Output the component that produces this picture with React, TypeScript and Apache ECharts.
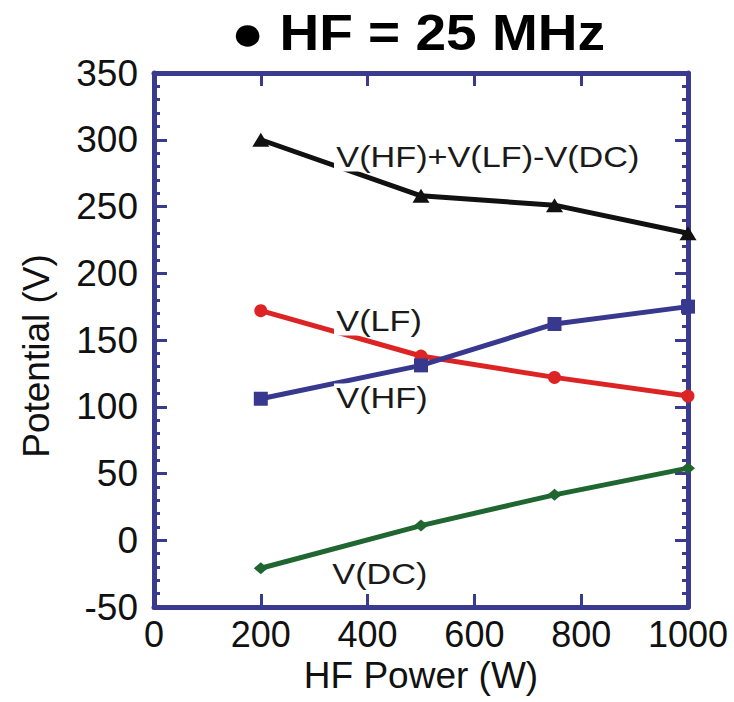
import React, { useEffect, useRef } from "react";
import * as echarts from "echarts";

// HF power settings (W)
const hfPower = [200, 500, 750, 1000];

// Measured potentials (V)
const sumPotential = [300, 258, 251, 230]; // V(HF)+V(LF)-V(DC)
const vLF = [172, 138, 122, 108];
const vHF = [106, 131, 162, 175];
const vDC = [-21, 11, 34, 54];

const xTicks = [0, 200, 400, 600, 800, 1000];
const yTicks = [-50, 0, 50, 100, 150, 200, 250, 300, 350];

const AXIS = "#3a3a8e";
const FONT = "Liberation Sans, Arial, Helvetica, sans-serif";

const pairs = (ys: number[]) => hfPower.map((x, i) => [x, ys[i]]);

export default function App() {
  const ref = useRef<HTMLDivElement>(null);

  useEffect(() => {
    if (!ref.current) return;
    const chart = echarts.init(ref.current, null, { renderer: "svg" });

    const baseX = {
      type: "value" as const,
      min: xTicks[0],
      max: xTicks[xTicks.length - 1],
      interval: 200,
      axisLine: { show: true, onZero: false, lineStyle: { color: AXIS, width: 5 } },
      axisTick: { show: true, inside: true, length: 13, lineStyle: { color: AXIS, width: 3 } },
      splitLine: { show: false },
    };
    const baseY = {
      type: "value" as const,
      min: yTicks[0],
      max: yTicks[yTicks.length - 1],
      interval: 50,
      axisLine: { show: true, onZero: false, lineStyle: { color: AXIS, width: 5 } },
      axisTick: { show: true, inside: true, length: 13, lineStyle: { color: AXIS, width: 3 } },
      minorTick: { show: true, splitNumber: 5, length: 6, lineStyle: { color: AXIS, width: 3 } },
      splitLine: { show: false },
    };

    const labelStyle = (text: string) => ({
      text,
      fill: "#1a1a1a",
      font: `29px ${FONT}`,
      backgroundColor: "#ffffff",
      padding: [0, 2],
      verticalAlign: "middle",
    });

    const nameStyle = (text: string) => ({
      text,
      fill: "#111",
      font: `37px ${FONT}`,
      align: "center",
      verticalAlign: "middle",
    });

    chart.setOption({
      animation: false,
      backgroundColor: "#ffffff",
      grid: { left: 154, right: 46, top: 73, bottom: 95, containLabel: false },
      xAxis: [
        {
          ...baseX,
          position: "bottom",
          axisLabel: {
            margin: 10,
            fontFamily: FONT,
            fontSize: 36,
            lineHeight: 34,
            color: "#111",
            formatter: (v: number) => String(v),
          },
        },
        { ...baseX, position: "top", axisLabel: { show: false } },
      ],
      yAxis: [
        {
          ...baseY,
          position: "left",
          axisLabel: { margin: 16, fontFamily: FONT, fontSize: 37, color: "#111" },
        },
        { ...baseY, position: "right", axisLabel: { show: false } },
      ],
      series: [
        {
          name: "V(HF)+V(LF)-V(DC)",
          type: "line",
          data: pairs(sumPotential),
          symbol: "triangle",
          symbolSize: [17, 14],
          lineStyle: { color: "#111111", width: 5 },
          itemStyle: { color: "#111111" },
          z: 3,
        },
        {
          name: "V(LF)",
          type: "line",
          data: pairs(vLF),
          symbol: "circle",
          symbolSize: 13,
          lineStyle: { color: "#dd2424", width: 5 },
          itemStyle: { color: "#dd2424" },
          z: 3,
        },
        {
          name: "V(HF)",
          type: "line",
          data: pairs(vHF),
          symbol: "rect",
          symbolSize: 14,
          lineStyle: { color: "#38388f", width: 5 },
          itemStyle: { color: "#38388f" },
          z: 4,
        },
        {
          name: "V(DC)",
          type: "line",
          data: pairs(vDC),
          symbol: "diamond",
          symbolSize: [14, 12],
          lineStyle: { color: "#1f6631", width: 5 },
          itemStyle: { color: "#1f6631" },
          z: 3,
        },
      ],
      graphic: [
        {
          type: "text",
          x: 418,
          y: 32,
          scaleX: 1.1,
          z: 100,
          style: {
            text: "\u25CF HF = 25 MHz",
            fill: "#000",
            font: `bold 50px ${FONT}`,
            align: "center",
            verticalAlign: "middle",
          },
        },
        // axis titles
        { type: "text", x: 421, y: 675, z: 100, style: { ...nameStyle("HF Power (W)"), lineHeight: 36 } },
        { type: "text", x: 36, y: 356, rotation: Math.PI / 2, z: 100, style: nameStyle("Potential (V)") },
        // curve annotations
        { type: "text", x: 334, y: 157, scaleX: 1.18, z: 100, style: labelStyle("V(HF)+V(LF)-V(DC)") },
        { type: "text", x: 334, y: 321, scaleX: 1.18, z: 100, style: labelStyle("V(LF)") },
        { type: "text", x: 334, y: 398, scaleX: 1.18, z: 100, style: labelStyle("V(HF)") },
        { type: "text", x: 330, y: 574, scaleX: 1.18, z: 100, style: labelStyle("V(DC)") },
      ],
    });

    return () => chart.dispose();
  }, []);

  return (
    <div
      ref={ref}
      style={{ position: "absolute", left: 0, top: 0, width: 734, height: 702 }}
    />
  );
}
